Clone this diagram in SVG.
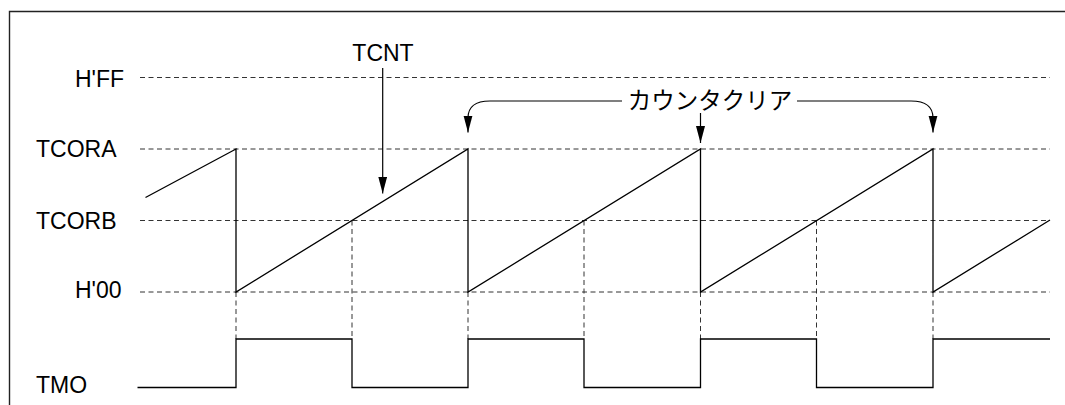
<svg xmlns="http://www.w3.org/2000/svg" width="1065" height="405" viewBox="0 0 1065 405">
<style>
.lbl{font-family:"Liberation Sans",Arial,sans-serif;font-size:23px;fill:#000}
.jp{font-family:"Liberation Sans","Noto Sans CJK JP",sans-serif;font-size:23.5px;fill:#000}
.dash{stroke:#333;stroke-width:1;stroke-dasharray:5 3.5;fill:none}
.wave{stroke:#000;stroke-width:1.3;fill:none}
.arr{stroke:#000;stroke-width:1.2;fill:none;marker-end:url(#ah)}
.frame{stroke:#222;stroke-width:1.4;fill:none}
</style>
<defs>
<marker id="ah" markerUnits="userSpaceOnUse" markerWidth="18" markerHeight="10" refX="17" refY="4.5" orient="auto">
<path d="M0,0 L17,4.5 L0,9 Z" fill="#000"/>
</marker>
</defs>
<rect width="1065" height="405" fill="#fff"/>
<path class="frame" d="M9.5,405 V11.5 H1065"/>
<g id="labels">
<text id="lbl-hff" class="lbl" x="75" y="87">H'FF</text>
<text id="lbl-tcora" class="lbl" x="36" y="157">TCORA</text>
<text id="lbl-tcorb" class="lbl" x="36" y="229">TCORB</text>
<text id="lbl-h00" class="lbl" x="75" y="298">H'00</text>
<text id="lbl-tmo" class="lbl" x="36" y="393">TMO</text>
<text id="lbl-tcnt" class="lbl" x="383" y="61" text-anchor="middle">TCNT</text>
<text id="lbl-clear" class="jp" x="710" y="108.5" text-anchor="middle">カウンタクリア</text>
</g>
<g id="grid">
<line class="dash" x1="140" y1="77.5" x2="1050" y2="77.5"/>
<line class="dash" x1="140" y1="149" x2="1050" y2="149"/>
<line class="dash" x1="140" y1="220.5" x2="1050" y2="220.5"/>
<line class="dash" x1="140" y1="292" x2="1050" y2="292"/>
<line class="dash" x1="236" y1="292" x2="236" y2="339"/>
<line class="dash" x1="468" y1="292" x2="468" y2="339"/>
<line class="dash" x1="700.5" y1="292" x2="700.5" y2="339"/>
<line class="dash" x1="933" y1="292" x2="933" y2="339"/>
<line class="dash" x1="352" y1="220.5" x2="352" y2="339"/>
<line class="dash" x1="584" y1="220.5" x2="584" y2="339"/>
<line class="dash" x1="816.5" y1="220.5" x2="816.5" y2="339"/>
</g>
<g id="tcnt-wave">
<path class="wave" d="M145.5,197.5 L236,149 V292 L468,149 V292 L700.5,149 V292 L933,149 V292 L1050,220"/>
</g>
<g id="tmo-wave">
<path class="wave" d="M137.5,387.5 H236 V339 H352 V387.5 H468 V339 H584 V387.5 H700.5 V339 H816.5 V387.5 H933 V339 H1050"/>
</g>
<g id="connectors">
<line class="arr" x1="382.7" y1="68" x2="382.7" y2="193.5"/>
<path class="arr" d="M622,101 H490 Q468,101 468,118 V132.5"/>
<path class="arr" d="M797,101 H911 Q933,101 933,118 V132.5"/>
<line class="arr" x1="700.5" y1="113" x2="700.5" y2="143"/>
</g>
</svg>
